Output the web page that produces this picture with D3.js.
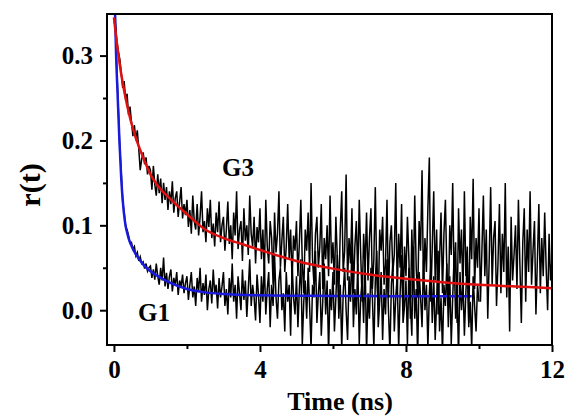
<!DOCTYPE html>
<html>
<head>
<meta charset="utf-8">
<script src="https://cdn.jsdelivr.net/npm/d3@7"></script>
<style>
  body { margin: 0; background: #fff; }
  text { font-family: "Liberation Serif", "Times New Roman", serif; font-weight: bold; }
</style>
</head>
<body>
<svg id="body" width="567" height="418"></svg>
<script>
// raw decays, r(t) in thousandths, one sample every 0.04 ns
let sampleStep = 0.04

let g3Data = [
  340, 336, 318, 305, 296, 280, 262, 270, 248, 255, 230, 240, 222, 205, 218, 200, 212, 190, 165, 178, 186, 172, 180, 160, 170,
  165, 142, 170, 148, 135, 160, 138, 155, 126, 150, 130, 145, 118, 140, 125, 152, 115, 132, 140, 110, 128, 145, 108, 125, 112,
  130, 98, 118, 90, 135, 105, 95, 125, 88, 110, 140, 92, 105, 80, 120, 98, 130, 85, 102, 75, 115, 92, 128, 80, 100,
  110, 70, 95, 128, 78, 100, 60, 115, 88, 140, 72, 95, 105, 58, 120, 82, 100, 65, 135, 90, 75, 110, 55, 98, 80,
  120, 60, 95, 40, 130, 75, 55, 105, 85, 30, 115, 68, 90, 140, 50, 82, 110, 45, 75, 125, 60, 95, 35, 88, 70,
  105, 40, 80, 130, 55, 20, 95, 70, 115, 45, 150, 60, 30, 90, 110, 50, 75, 125, 25, 85, 60, 100, 40, 135, 55,
  80, 30, 110, 60, 15, 95, 140, 45, 70, 160, 35, 85, 55, 120, 20, 75, 105, 40, 130, 65, 10, 90, 50, 115, 35,
  85, 120, 25, 60, 145, 40, 5, 95, 70, 110, 30, 55, 130, 15, 80, 100, 45, 65, 150, 20, 90, 50, 125, 0, 75,
  40, 110, 60, -10, 95, 30, 135, 50, 15, 105, 70, 165, 25, 85, 45, 120, 180, 10, 75, 140, 35, 95, -5, 60, 115,
  20, 90, 130, 45, 5, 100, 65, 150, 30, 80, -15, 120, 55, 95, 15, 140, 40, 75, -20, 110, 60, 155, 25, 85, 50,
  120, 10, 70, 135, 40, 95, -10, 60, 145, 30, 85, 105, 5, 55, 125, 20, 90, 45, 150, 15, 75, -25, 110, 35, 65,
  100, 25, 130, 55, -15, 80, 120, 10, 95, 45, 140, 30, 70, 105, -5, 60, 125, 20, 85, 40, 115, 50, 0, 90, 35, 60
]

let g1Data = [
  420, 340, 282, 238, 192, 163, 128, 115, 98, 95, 88, 79, 80, 72, 75, 64, 68, 58, 63, 55, 57, 49, 55, 46, 50,
  52, 38, 48, 36, 55, 40, 30, 50, 35, 62, 28, 44, 25, 40, 48, 22, 38, 30, 45, 18, 35, 28, 42, 20, 32,
  40, 12, 30, 45, 15, 28, 5, 38, 22, 50, 10, 32, 18, 42, 0, 25, 35, 8, 48, 20, 30, 2, 38, 15, 28,
  45, 5, 25, -5, 38, 15, 55, 10, 30, -10, 40, 20, 0, 48, 12, 35, -8, 25, 60, 5, 30, 15, -12, 42, 18,
  -15, 40, 10, 55, -5, 25, 45, -20, 30, 5, 65, 15, -10, 35, 50, 0, 20, -25, 45, 10, 30, -30, 55, 15, -5,
  40, -20, 25, 60, -40, 10, 35, -10, 50, 5, -45, 30, 15, 70, -15, 20, 45, -30, 10, 55, -5, 35, -50, 25, 0,
  45, -25, 15, 65, -10, 30, -45, 20, 50, 0, -35, 40, 10, 75, -20, 25, -5, 55, -40, 15, 35, -15, 60, -50, 20,
  -10, 50, 15, -45, 35, 70, -20, 10, 45, -35, 25, -5, 60, 0, -50, 30, 55, -25, 15, 40, -45, 20, 65, -15, 5,
  35, -40, 50, 10, -30, 75, -10, 25, -55, 45, 15, -20, 60, 0, 30, -45, 20, 55, -15, 40, -35, 10, 70, -25, 15,
  -50, 30, 5, 55, -20, 40, -40, 15, 65, -10, 25, -55, 45, 0, 35, -30, 20, 60, -15, 10, -45, 40, 5, -25, 30, 10
]

// fitted curves
let g3FitTime = [0, 0.1, 0.2, 0.3, 0.45, 0.6, 0.8, 1.0, 1.25, 1.5, 2, 2.5, 3, 3.5, 4, 5, 6, 7, 8, 9, 10, 11, 12]
let g3FitValue = [0.345, 0.308, 0.278, 0.254, 0.225, 0.203, 0.180, 0.160, 0.144, 0.133, 0.113, 0.095, 0.085, 0.078, 0.071, 0.058, 0.049, 0.042, 0.037, 0.033, 0.030, 0.028, 0.026]

let g1FitTime = [0, 0.03, 0.06, 0.1, 0.15, 0.2, 0.25, 0.3, 0.4, 0.5, 0.6, 0.8, 1.0, 1.25, 1.5, 2, 2.5, 3, 4, 5, 6, 7, 8, 9, 9.8]
let g1FitValue = [0.42, 0.35, 0.30, 0.255, 0.20, 0.155, 0.125, 0.105, 0.085, 0.074, 0.066, 0.054, 0.046, 0.039, 0.033, 0.025, 0.021, 0.019, 0.0175, 0.017, 0.0168, 0.0166, 0.0165, 0.0165, 0.0165]

let xMajorTicks = [0, 4, 8, 12]
let xMinorTicks = [2, 6, 10]
let yMajorTicks = [0.0, 0.1, 0.2, 0.3]
let yMinorTicks = [0.05, 0.15, 0.25]

let svg = d3.select("#body")

let margin = {top: 14, right: 15, bottom: 73, left: 107}
let bodyWidth = 567 - margin.left - margin.right
let bodyHeight = 418 - margin.top - margin.bottom

let xscale = d3.scaleLinear()
	.domain([-0.19, 12])
	.range([0, bodyWidth])

let yscale = d3.scaleLinear()
	.domain([-0.041, 0.349])
	.range([bodyHeight, 0])

let plot = svg.append("g")
	.attr("transform", "translate(" + margin.left + "," + margin.top + ")")

plot.append("clipPath")
	.attr("id", "clip")
	.append("rect")
	.attr("width", bodyWidth)
	.attr("height", bodyHeight)

let toPoints = arr => arr.map((v, i) => ({t: i * sampleStep, r: v / 1000}))

let rawLine = d3.line()
	.x(d => xscale(d.t))
	.y(d => yscale(d.r))

let fitLine = d3.line()
	.x(d => xscale(d.t))
	.y(d => yscale(d.r))
	.curve(d3.curveMonotoneX)

let fitPoints = (ts, vs) => ts.map((t, i) => ({t: t, r: vs[i]}))

let layer = plot.append("g").attr("clip-path", "url(#clip)")

// G1 raw, blue fit, G3 raw, red fit
layer.append("path")
	.datum(toPoints(g1Data))
	.attr("d", rawLine)
	.attr("fill", "none")
	.attr("stroke", "#000")
	.attr("stroke-width", 1.5)

layer.append("path")
	.datum(fitPoints(g1FitTime, g1FitValue))
	.attr("d", fitLine)
	.attr("fill", "none")
	.attr("stroke", "#1a1adc")
	.attr("stroke-width", 2.5)

layer.append("path")
	.datum(toPoints(g3Data))
	.attr("d", rawLine)
	.attr("fill", "none")
	.attr("stroke", "#000")
	.attr("stroke-width", 1.5)

layer.append("path")
	.datum(fitPoints(g3FitTime, g3FitValue))
	.attr("d", fitLine)
	.attr("fill", "none")
	.attr("stroke", "#e01010")
	.attr("stroke-width", 2.5)

//frame
plot.append("rect")
	.attr("width", bodyWidth)
	.attr("height", bodyHeight)
	.attr("fill", "none")
	.attr("stroke", "#000")
	.attr("stroke-width", 2)

//axes
let yAxis = plot.append("g")
	.call(d3.axisLeft(yscale).tickValues(yMajorTicks).tickFormat(d3.format(".1f")).tickSize(7).tickSizeOuter(0).tickPadding(7))
let yMinor = plot.append("g")
	.call(d3.axisLeft(yscale).tickValues(yMinorTicks).tickFormat("").tickSize(4).tickSizeOuter(0))

let xAxis = plot.append("g")
	.attr("transform", "translate(0," + bodyHeight + ")")
	.call(d3.axisBottom(xscale).tickValues(xMajorTicks).tickSize(7).tickSizeOuter(0).tickPadding(8))
let xMinor = plot.append("g")
	.attr("transform", "translate(0," + bodyHeight + ")")
	.call(d3.axisBottom(xscale).tickValues(xMinorTicks).tickFormat("").tickSize(4).tickSizeOuter(0))

svg.selectAll(".domain").remove()
svg.selectAll(".tick line").attr("stroke", "#000").attr("stroke-width", 2)
svg.selectAll(".tick text")
	.style("font-family", "'Liberation Serif', serif")
	.style("font-weight", "bold")
	.style("font-size", "25px")
	.attr("fill", "#000")

//labels
svg.append("text")
	.attr("text-anchor", "middle")
	.attr("x", 340)
	.attr("y", 410)
	.style("font-size", "26px")
	.text("Time (ns)")

svg.append("text")
	.attr("text-anchor", "middle")
	.attr("transform", "translate(40,185) rotate(-90)")
	.style("font-size", "30px")
	.text("r(t)")

plot.append("text")
	.attr("text-anchor", "middle")
	.attr("x", xscale(3.4))
	.attr("y", yscale(0.158))
	.style("font-size", "25px")
	.text("G3")

plot.append("text")
	.attr("text-anchor", "middle")
	.attr("x", xscale(1.1))
	.attr("y", yscale(-0.013))
	.style("font-size", "25px")
	.text("G1")
</script>
</body>
</html>
